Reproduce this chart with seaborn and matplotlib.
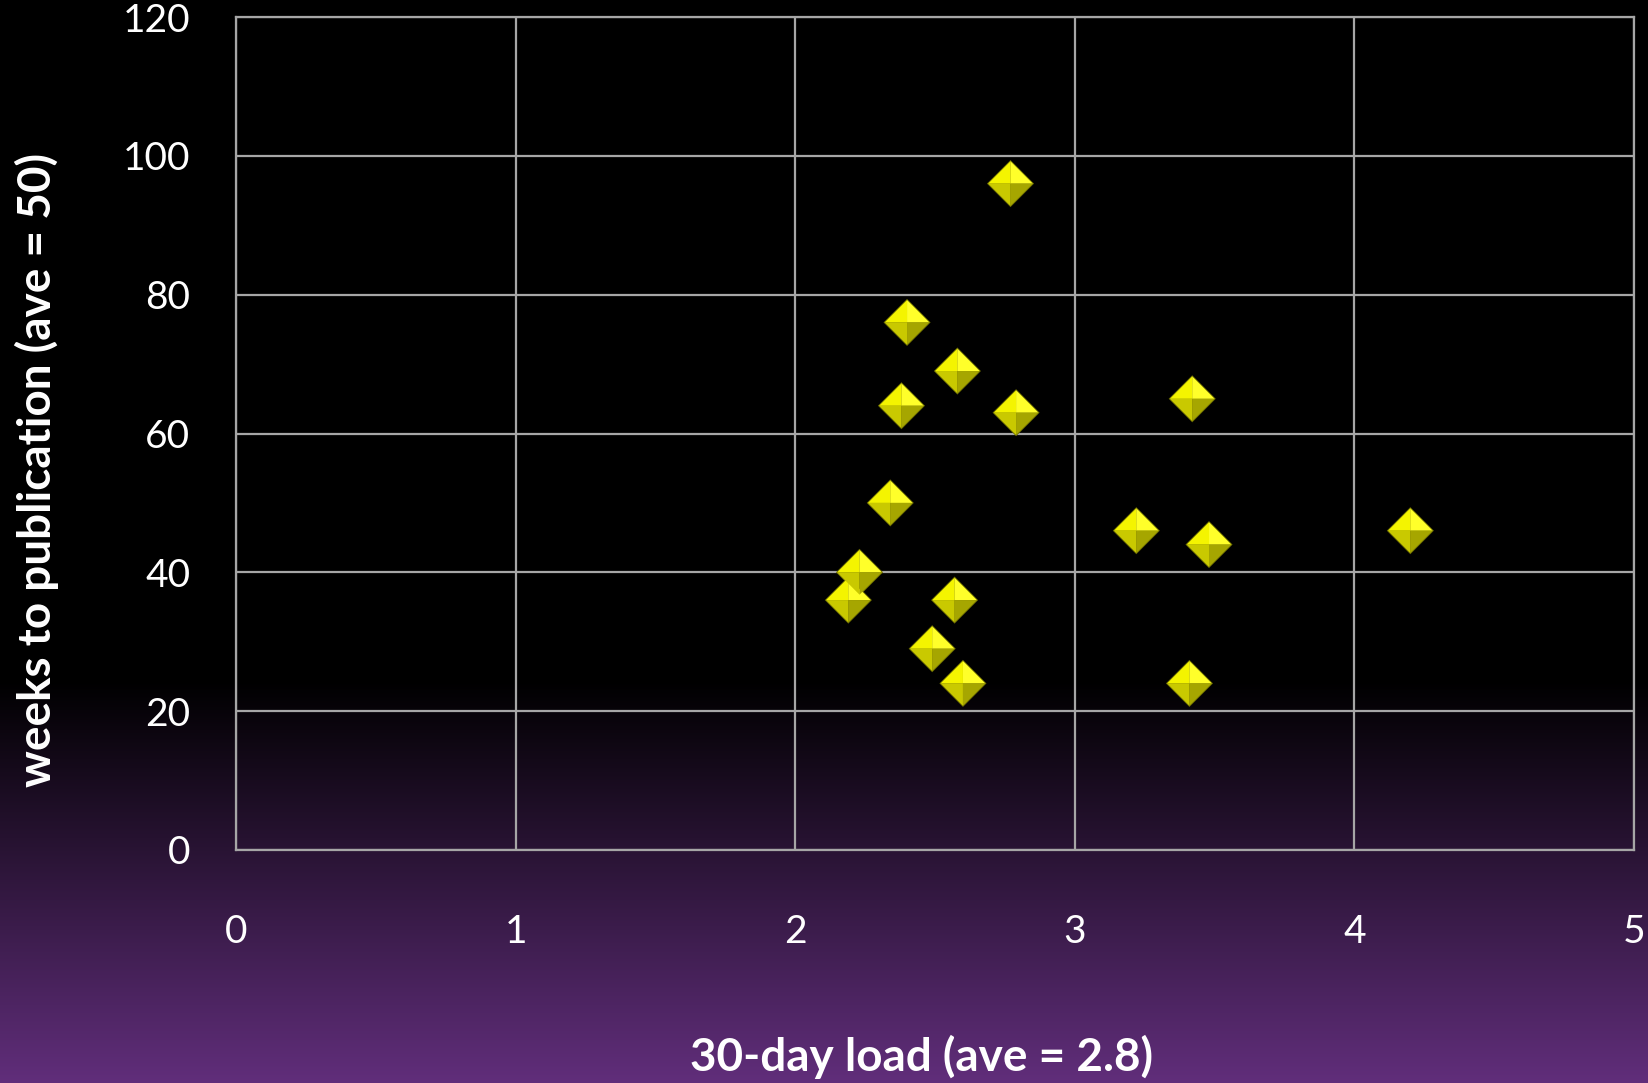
import numpy as np
import pandas as pd
import matplotlib
matplotlib.use("Agg")
import matplotlib.pyplot as plt
from matplotlib.path import Path
import seaborn as sns

# 30-day load vs. weeks to publication
load = [2.77, 2.40, 2.58, 2.38, 2.79, 3.42, 2.34, 3.22, 3.48, 4.20,
        2.23, 2.19, 2.57, 2.49, 2.60, 3.41]
weeks = [96, 76, 69, 64, 63, 65, 50, 46, 44, 46, 40, 36, 36, 29, 24, 24]

x_ticks = [0, 1, 2, 3, 4, 5]
y_ticks = [0, 20, 40, 60, 80, 100, 120]
x_label = "30-day load (ave = 2.8)"
y_label = "weeks to publication (ave = 50)"

df = pd.DataFrame({"load": load, "weeks": weeks})

sns.set_theme(style="dark")
plt.rcParams["font.family"] = ["Lato", "DejaVu Sans"]

W, H, DPI = 1649, 1083, 100
fig = plt.figure(figsize=(W / DPI, H / DPI), dpi=DPI)

# vertical background: black, fading into purple toward the bottom
bg = fig.add_axes([0, 0, 1, 1], zorder=-10)
rows = np.arange(H)
t = np.clip((rows - 680) / (H - 680), 0, 1)
purple = np.array([0x61, 0x2e, 0x7b]) / 255.0
grad = t[:, None, None] * purple[None, None, :]
grad = np.repeat(grad, 2, axis=1)
bg.imshow(grad, aspect="auto", extent=[0, 1, 0, 1], origin="upper")
bg.set_axis_off()

left, right, top, bottom = 236, 1634, 17, 850
ax = fig.add_axes([left / W, 1 - bottom / H, (right - left) / W, (bottom - top) / H])
ax.set_facecolor("none")

# diamond split into four lit facets (pyramid look)
def tri(pts):
    verts = list(pts) + [pts[0]]
    codes = [Path.MOVETO, Path.LINETO, Path.LINETO, Path.CLOSEPOLY]
    return Path(verts, codes)

full = Path([(-1, 0), (0, 1), (1, 0), (0, -1), (-1, 0)],
            [Path.MOVETO, Path.LINETO, Path.LINETO, Path.LINETO, Path.CLOSEPOLY])
facets = [
    (tri([(0, 0), (-1, 0), (0, 1)]), "#f4f400"),   # upper left
    (tri([(0, 0), (0, 1), (1, 0)]), "#ffff2a"),    # upper right
    (tri([(0, 0), (-1, 0), (0, -1)]), "#c9c900"),  # lower left
    (tri([(0, 0), (0, -1), (1, 0)]), "#a6a600"),   # lower right
]
size = 1150
sns.scatterplot(data=df, x="load", y="weeks", marker=full, s=size,
                color="#6e6e00", edgecolor="none", linewidth=0, ax=ax,
                zorder=3, legend=False)
for path, col in facets:
    sns.scatterplot(data=df, x="load", y="weeks", marker=path, s=size * 0.9,
                    color=col, edgecolor="none", linewidth=0, ax=ax,
                    zorder=4, legend=False)

ax.set_xlim(0, 5)
ax.set_ylim(0, 120)
ax.set_xticks(x_ticks)
ax.set_yticks(y_ticks)
ax.set_xticklabels([str(v) for v in x_ticks])
ax.set_yticklabels([str(v) for v in y_ticks])
ax.grid(True, color="#a6a6a6", linewidth=1.6)
ax.set_axisbelow(True)
for sp in ax.spines.values():
    sp.set_visible(True)
    sp.set_color("#a6a6a6")
    sp.set_linewidth(1.6)
ax.tick_params(axis="both", colors="white", labelsize=28, length=0)
ax.tick_params(axis="x", pad=46)
ax.tick_params(axis="y", pad=33)

ax.set_xlabel(x_label, color="white", fontsize=33, fontweight="bold", va="center")
ax.set_ylabel(y_label, color="white", fontsize=33, fontweight="bold", va="center")
ax.xaxis.set_label_coords((922 - left) / (right - left), -(1057 - bottom) / (bottom - top))
ax.yaxis.set_label_coords(-(left - 37) / (right - left), (bottom - 470) / (bottom - top))

fig.savefig("out.png", dpi=DPI)
